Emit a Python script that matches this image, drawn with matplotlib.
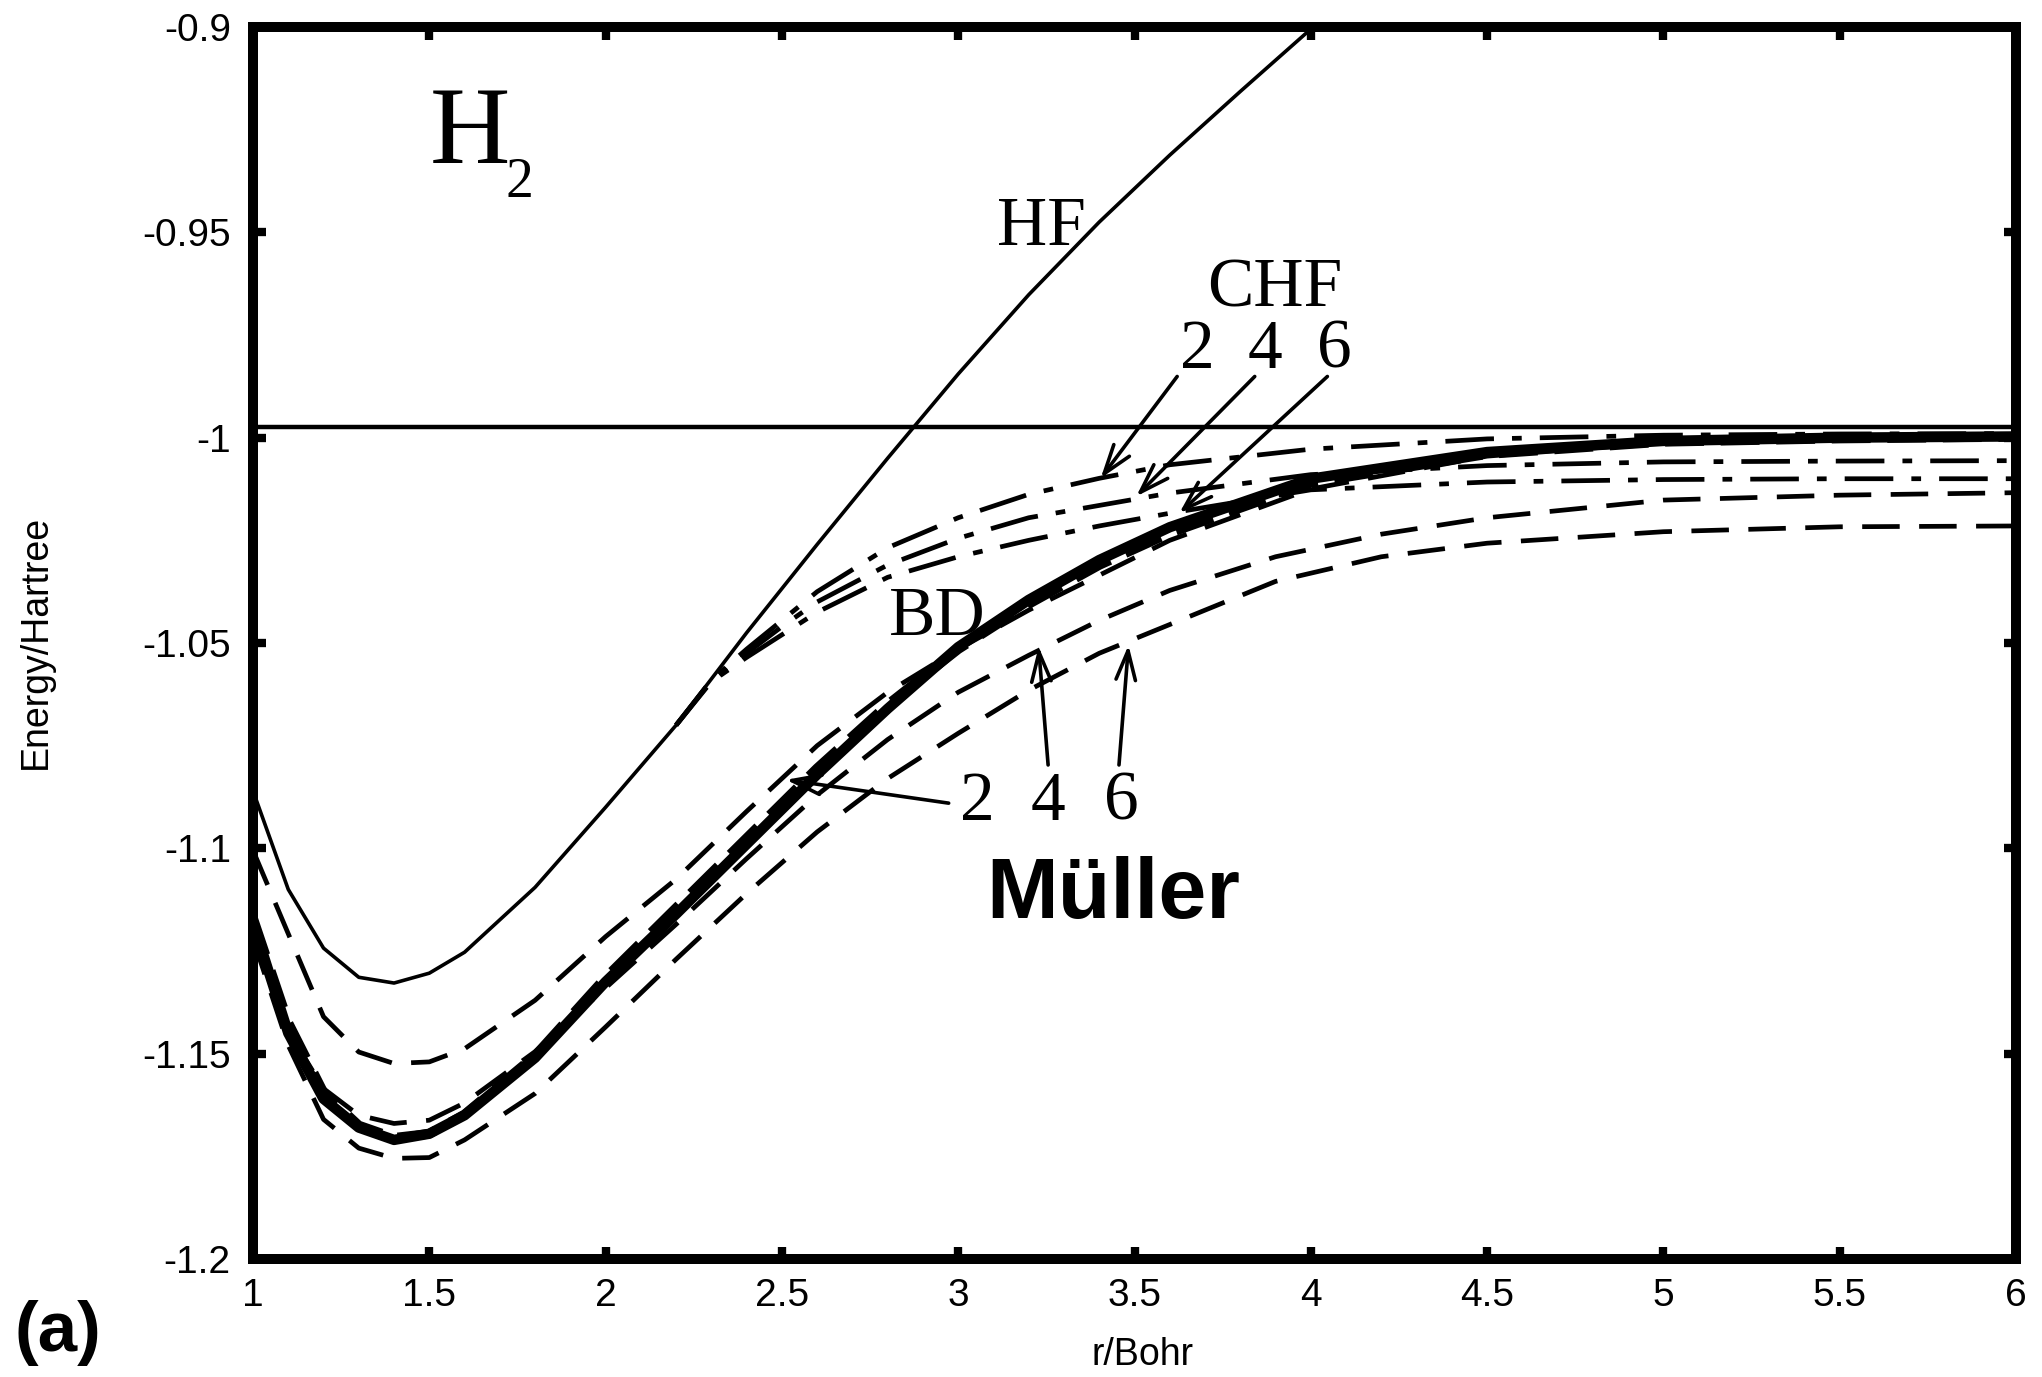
import matplotlib
matplotlib.use("Agg")
import matplotlib.pyplot as plt

plt.rcParams['lines.scale_dashes'] = False
plt.rcParams['axes.unicode_minus'] = False

# ---------------- data ----------------
r_hf = [1.0, 1.1, 1.2, 1.3, 1.4, 1.5, 1.6, 1.8, 2.0, 2.2, 2.4, 2.6, 2.8, 3.0,
        3.2, 3.4, 3.6, 3.8, 4.0, 4.2]
e_hf = [-1.086, -1.110, -1.1243, -1.1314, -1.1328, -1.1304, -1.1253, -1.1095,
        -1.0900, -1.0700, -1.0475, -1.0260, -1.0050, -0.9845, -0.9652, -0.9475,
        -0.9312, -0.9157, -0.9005, -0.8870]

r_chf = [2.2, 2.3, 2.4, 2.5, 2.6, 2.8, 3.0, 3.2, 3.4, 3.6, 4.0, 4.5, 5.0, 5.5, 6.0]
e_chf2 = [-1.0700, -1.0590, -1.0515, -1.0445, -1.0375, -1.0268, -1.0195, -1.0138,
          -1.0099, -1.0066, -1.0028, -1.0003, -0.9994, -0.9991, -0.9990]
e_chf4 = [-1.0700, -1.0592, -1.0525, -1.0460, -1.0400, -1.0310, -1.0245, -1.0195,
          -1.0165, -1.0135, -1.0090, -1.0068, -1.0059, -1.0057, -1.0056]
e_chf6 = [-1.0700, -1.0594, -1.0535, -1.0480, -1.0425, -1.0340, -1.0290, -1.0250,
          -1.0215, -1.0184, -1.0127, -1.0108, -1.0102, -1.0100, -1.0100]

r_bd = [1.0, 1.1, 1.2, 1.3, 1.4, 1.5, 1.6, 1.8, 2.0, 2.2, 2.4, 2.6, 2.8, 3.0,
        3.2, 3.4, 3.6, 4.0, 4.5, 5.0, 5.5, 6.0]
e_bd = [-1.118, -1.145, -1.161, -1.168, -1.171, -1.1695, -1.165, -1.151, -1.1325,
        -1.1160, -1.0990, -1.0820, -1.0660, -1.0510, -1.0395, -1.0298, -1.0218,
        -1.0100, -1.0035, -1.0008, -1.0000, -0.9997]
e_exact = [-1.117, -1.1425, -1.1595, -1.1675, -1.1705, -1.1695, -1.1648, -1.1505,
           -1.1315, -1.1145, -1.0975, -1.0805, -1.0650, -1.0515, -1.0405, -1.0310,
           -1.0232, -1.0110, -1.0040, -1.0010, -1.0002, -0.9998]
e_mul2 = [-1.1005, -1.1208, -1.141, -1.1496, -1.1524, -1.152, -1.1488, -1.137,
          -1.1215, -1.1075, -1.091, -1.075, -1.062, -1.0515, -1.042, -1.0335,
          -1.0250, -1.0125, -1.0045, -1.0012, -1.0003, -1.0000]

r_mul = [1.0, 1.1, 1.2, 1.3, 1.4, 1.5, 1.6, 1.8, 2.0, 2.2, 2.4, 2.6, 2.8, 3.0,
         3.2, 3.4, 3.6, 3.9, 4.2, 4.5, 5.0, 5.5, 6.0]
e_mul4 = [-1.1205, -1.1445, -1.1585, -1.165, -1.167, -1.1662, -1.162, -1.1495,
          -1.1340, -1.1185, -1.1025, -1.0870, -1.0735, -1.0620, -1.0530, -1.0445,
          -1.0372, -1.0290, -1.0235, -1.0195, -1.0152, -1.0140, -1.0134]
e_mul6 = [-1.122, -1.148, -1.166, -1.173, -1.1755, -1.1753, -1.171, -1.1597,
          -1.1435, -1.1270, -1.1110, -1.0960, -1.0830, -1.0720, -1.0615, -1.0525,
          -1.0455, -1.0350, -1.0290, -1.0257, -1.0229, -1.0217, -1.0215]

e_ref_line = -0.9973

x_ticks = [1, 1.5, 2, 2.5, 3, 3.5, 4, 4.5, 5, 5.5, 6]
x_ticklabels = ['1', '1.5', '2', '2.5', '3', '3.5', '4', '4.5', '5', '5.5', '6']
y_ticks = [-1.2, -1.15, -1.1, -1.05, -1.0, -0.95, -0.9]
y_ticklabels = ['-1.2', '-1.15', '-1.1', '-1.05', '-1', '-0.95', '-0.9']

# ---------------- figure ----------------
fig = plt.figure(figsize=(20.42, 13.77), dpi=100)
ax = fig.add_axes([253 / 2042, 1 - 1259 / 1377, (2016 - 253) / 2042, (1259 - 27) / 1377])

K = 'black'
dashed = (0, (27, 14))
dashdot = (0, (35, 13, 7, 13))

ax.axhline(e_ref_line, color=K, lw=3.2, zorder=2)
ax.plot(r_hf, e_hf, color=K, lw=2.6, zorder=3)
for e in (e_chf2, e_chf4, e_chf6):
    ax.plot(r_chf, e, color=K, lw=3.4, linestyle=dashdot, zorder=3)
ax.plot(r_bd, e_mul2, color=K, lw=3.4, linestyle=dashed, zorder=3)
ax.plot(r_mul, e_mul4, color=K, lw=3.4, linestyle=dashed, zorder=3)
ax.plot(r_mul, e_mul6, color=K, lw=3.4, linestyle=dashed, zorder=3)
ax.plot(r_bd, e_exact, color=K, lw=7.0, linestyle=(0, (28, 12)), zorder=4)
ax.plot(r_bd, e_bd, color=K, lw=7.5, zorder=5)

ax.set_xlim(1, 6)
ax.set_ylim(-1.2, -0.9)

ax.set_xticks(x_ticks)
ax.set_xticklabels(x_ticklabels)
ax.set_yticks(y_ticks)
ax.set_yticklabels(y_ticklabels)

for s in ax.spines.values():
    s.set_linewidth(7.2)
ax.tick_params(axis='both', which='major', direction='in', length=9, width=6,
               top=True, right=True, labelsize=28)
ax.tick_params(axis='x', pad=14)
ax.tick_params(axis='y', pad=16)
for lab in ax.get_xticklabels() + ax.get_yticklabels():
    lab.set_fontfamily('Liberation Sans')

# ---------------- annotations ----------------
serif = 'Liberation Serif'
ax.text(1.500, -0.9331, 'H', fontsize=80, family=serif, ha='left', va='baseline')
ax.text(1.716, -0.9414, '2', fontsize=40, family=serif, ha='left', va='baseline')
ax.text(3.110, -0.9531, 'HF', fontsize=50, family=serif, ha='left', va='baseline')
ax.text(3.706, -0.9681, 'CHF', fontsize=50, family=serif, ha='left', va='baseline')
for lab, xx in (('2', 3.629), ('4', 3.822), ('6', 4.019)):
    ax.text(xx, -0.9830, lab, fontsize=50, family=serif, ha='left', va='baseline')
ax.text(2.804, -1.0480, 'BD', fontsize=50, family=serif, ha='left', va='baseline')
for lab, xx in (('2', 3.005), ('4', 3.206), ('6', 3.413)):
    ax.text(xx, -1.0931, lab, fontsize=50, family=serif, ha='left', va='baseline')
ax.text(3.080, -1.1170, 'Müller', fontsize=62, family='Liberation Sans',
        fontweight='bold', ha='left', va='baseline')

arrows = [
    ((3.621, -0.9851), (3.404, -1.0099)),
    ((3.841, -0.9851), (3.505, -1.0143)),
    ((4.047, -0.9851), (3.627, -1.0184)),
    ((2.973, -1.0890), (2.512, -1.0833)),
    ((3.255, -1.0797), (3.228, -1.0509)),
    ((3.456, -1.0797), (3.483, -1.0505)),
]
for start, tip in arrows:
    ax.annotate('', xy=tip, xytext=start,
                arrowprops=dict(arrowstyle='->,head_length=1.05,head_width=0.35',
                                mutation_scale=20, lw=2.6, color=K,
                                shrinkA=0, shrinkB=0), zorder=6)

fig.text(1142 / 2042, 1 - 1355 / 1377, 'r/Bohr', fontsize=27,
         family='Liberation Sans', ha='center', va='center')
fig.text(36 / 2042, 1 - 642 / 1377, 'Energy/Hartree', fontsize=27, rotation=90,
         family='Liberation Sans', ha='center', va='center')
fig.text(58 / 2042, 1 - 1333 / 1377, '(a)', fontsize=51, fontweight='bold',
         family='Liberation Sans', ha='center', va='center')

fig.savefig('out.png', dpi=100)
